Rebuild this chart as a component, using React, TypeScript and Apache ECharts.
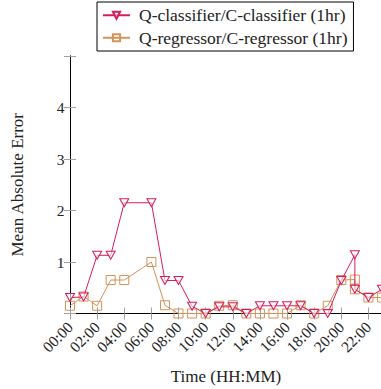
import React, { useEffect, useRef } from "react";
import * as echarts from "echarts";

const hoursClassifier = [0, 1, 2, 3, 4, 6, 7, 8, 9, 10, 11, 12, 13, 14, 15, 16, 17, 18, 19, 20, 21, 21, 22, 23];
const valuesClassifier = [0.31, 0.32, 1.13, 1.13, 2.15, 2.15, 0.64, 0.64, 0.14, 0.0, 0.13, 0.13, 0.0, 0.15, 0.15, 0.15, 0.15, 0.0, 0.0, 0.64, 1.14, 0.47, 0.31, 0.47];
const hoursRegressor = [0, 1, 2, 3, 4, 6, 7, 8, 9, 10, 11, 12, 13, 14, 15, 16, 17, 18, 19, 20, 21, 21, 22, 23];
const valuesRegressor = [0.15, 0.33, 0.15, 0.65, 0.65, 1.0, 0.16, 0.0, 0.0, 0.0, 0.15, 0.16, 0.0, 0.0, 0.0, 0.0, 0.16, 0.0, 0.15, 0.65, 0.66, 0.47, 0.31, 0.31];
const seriesNames = ["Q-classifier/C-classifier (1hr)", "Q-regressor/C-regressor (1hr)"];
const yTickLabels = [1, 2, 3, 4];

const RED = "#d81b5a";
const TAN = "#d3935a";
const FONT = "Liberation Serif";
const TEXT = "#222";

export default function App() {
  const ref = useRef<HTMLDivElement>(null);
  useEffect(() => {
    if (!ref.current) return;
    const chart = echarts.init(ref.current, undefined, { renderer: "svg" });
    const pad = (n: number) => (n < 10 ? "0" + n : "" + n);
    const tickCommon = {
      axisLine: { show: true, lineStyle: { color: "#000", width: 1 } },
      axisTick: { show: true, inside: true, length: 6, lineStyle: { color: "#a0a0a0", width: 1 } },
      splitLine: { show: false },
    };
    chart.setOption({
      animation: false,
      textStyle: { fontFamily: FONT },
      legend: {
        orient: "vertical",
        left: 97,
        top: 2,
        padding: [4.25, 6, 4.25, 5],
        itemWidth: 27,
        itemHeight: 9,
        itemGap: 4.5,
        borderColor: "#000",
        borderWidth: 1,
        textStyle: { fontFamily: FONT, fontSize: 17.5, color: TEXT, padding: [0, 0, 0, 4] },
        data: seriesNames,
      },
      grid: { left: 70, right: -1, top: 56, bottom: 75.5, outerBoundsMode: "none", containLabel: false },
      xAxis: [
        {
          type: "value",
          min: 0,
          max: 23,
          interval: 2,
          name: "Time (HH:MM)",
          nameLocation: "middle",
          nameGap: 54.5,
          nameTextStyle: { fontFamily: FONT, fontSize: 17, color: TEXT },
          ...tickCommon,
          axisLabel: {
            rotate: 45,
            margin: 11,
            showMaxLabel: false,
            fontFamily: FONT,
            fontSize: 15.5,
            color: TEXT,
            formatter: (v: number) => (v % 2 === 0 ? pad(v) + ":00" : ""),
          },
        },
        {
          type: "value",
          position: "top",
          min: 0,
          max: 23,
          interval: 2,
          ...tickCommon,
          axisLabel: { show: false },
        },
      ],
      yAxis: [
        {
          type: "value",
          min: 0,
          max: 5,
          interval: 1,
          name: "Mean Absolute Error",
          nameLocation: "middle",
          nameGap: 44,
          nameTextStyle: { fontFamily: FONT, fontSize: 17, color: TEXT },
          ...tickCommon,
          axisLabel: {
            margin: 5.5,
            fontFamily: FONT,
            fontSize: 15.5,
            color: TEXT,
            formatter: (v: number) => (yTickLabels.indexOf(v) >= 0 ? String(v) : ""),
          },
        },
        {
          type: "value",
          position: "right",
          min: 0,
          max: 5,
          interval: 1,
          ...tickCommon,
          axisLabel: { show: false },
        },
      ],
      series: [
        {
          name: seriesNames[0],
          type: "line",
          data: hoursClassifier.map((h, i) => [h, valuesClassifier[i]]),
          symbol: "triangle",
          symbolRotate: 180,
          symbolSize: [9, 8],
          showAllSymbol: true,
          lineStyle: { color: RED, width: 1 },
          itemStyle: { color: "rgba(255,255,255,0.6)", borderColor: RED, borderWidth: 1 },
          z: 3,
        },
        {
          name: seriesNames[1],
          type: "line",
          data: hoursRegressor.map((h, i) => [h, valuesRegressor[i]]),
          symbol: "rect",
          symbolSize: 9,
          showAllSymbol: true,
          lineStyle: { color: TAN, width: 1 },
          itemStyle: { color: "rgba(255,255,255,0)", borderColor: TAN, borderWidth: 1 },
          z: 2,
        },
      ],
    });
    return () => chart.dispose();
  }, []);
  return (
    <div
      ref={ref}
      style={{ position: "fixed", left: 0, top: 0, width: 381, height: 389, background: "#fff" }}
    />
  );
}
